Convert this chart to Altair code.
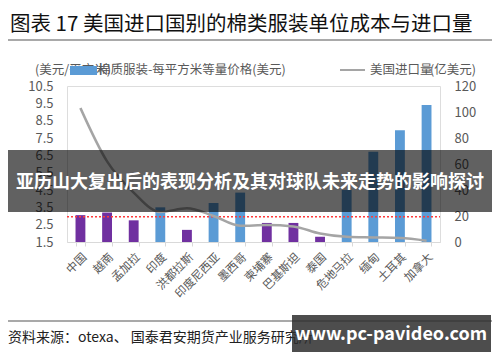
import altair as alt
import pandas as pd

categories = ["中国", "越南", "孟加拉", "印度", "洪都拉斯", "印度尼西亚", "墨西哥",
              "柬埔寨", "巴基斯坦", "泰国", "危地马拉", "缅甸", "土耳其", "加拿大"]
price = [3.05, 3.2, 2.75, 3.5, 2.2, 3.75, 4.35, 2.6, 2.6, 1.8, 4.5, 6.7, 7.95, 9.4]
imports = [103, 62, 38, 23, 26, 20, 12.5, 13, 12, 6.5, 4, 3.5, 3, 1]
group = ["p", "p", "p", "b", "p", "b", "b", "p", "p", "p", "b", "b", "b", "b"]
ref_price = 2.95
left_ticks = [1.5, 2.5, 3.5, 4.5, 5.5, 6.5, 7.5, 8.5, 9.5, 10.5]
right_ticks = [0, 20, 40, 60, 80, 100, 120]

title_text = "图表 17 美国进口国别的棉类服装单位成本与进口量"
bar_legend = "棉质服装-每平方米等量价格(美元)"
left_unit = "(美元/平方米)"
line_legend = "美国进口量"
right_unit = "(亿美元)"
banner_text = "亚历山大复出后的表现分析及其对球队未来走势的影响探讨"
source_text = "资料来源：otexa、 国泰君安期货产业服务研究所"
watermark = "www.pc-pavideo.com"

FONT = "Noto Sans CJK SC"
GRAY = "#595959"

df = pd.DataFrame({"cat": categories, "price": price, "imports": imports, "g": group})
one = pd.DataFrame({"a": [0]})
refdf = pd.DataFrame({"price": [ref_price]})

xenc = alt.X("cat:N", sort=categories, title=None,
             scale=alt.Scale(paddingInner=0.63, paddingOuter=0.32),
             axis=alt.Axis(labelAngle=-45, labelFont=FONT, labelFontSize=11.5,
                           labelColor=GRAY, domainColor="#D9D9D9", tickColor="#D9D9D9",
                           tickBand="extent", tickSize=4, labelPadding=5))

left_scale = alt.Scale(domain=[1.5, 10.5], zero=False, nice=False)
left_axis = alt.Axis(values=left_ticks, format=".1f", grid=False, domain=False,
                     ticks=False, labelFont=FONT, labelFontSize=13,
                     labelColor=GRAY, labelPadding=14, labelOverlap=False,
                     labelFlush=False)

bars = alt.Chart(df).mark_bar().encode(
    x=xenc,
    y=alt.Y("price:Q", title=None, scale=left_scale, axis=left_axis),
    y2=alt.datum(1.5),
    color=alt.Color("g:N", scale=alt.Scale(domain=["p", "b"], range=["#7030A0", "#5B9BD5"]),
                    legend=None),
)
redline = alt.Chart(refdf).mark_rule(color="#FF3B3B", strokeDash=[2, 2], strokeWidth=1.5).encode(
    y=alt.Y("price:Q", title=None, scale=left_scale, axis=left_axis),
    x=alt.value(0), x2=alt.value(373))
left = alt.layer(bars, redline)

line = alt.Chart(df).mark_line(color="#A5A5A5", strokeWidth=2.5, interpolate="monotone").encode(
    x=xenc,
    y=alt.Y("imports:Q", title=None,
            scale=alt.Scale(domain=[0, 120], nice=False),
            axis=alt.Axis(values=right_ticks, orient="right", grid=False, domain=False,
                          ticks=False, labelFont=FONT, labelFontSize=13,
                          labelColor=GRAY, labelPadding=14, labelOverlap=False,
                          labelFlush=False)),
)

def txt(text, x, y, size, color="#000000", align="left", weight="normal", base="middle"):
    return alt.Chart(one).mark_text(text=text, font=FONT, fontSize=size, color=color,
                                    align=align, baseline=base, fontWeight=weight).encode(
        x=alt.value(x), y=alt.value(y))

def rect(x, x2, y, y2, color, opacity=1.0):
    return alt.Chart(one).mark_rect(color=color, opacity=opacity).encode(
        x=alt.value(x), x2=alt.value(x2), y=alt.value(y), y2=alt.value(y2))

def hrule(x, x2, y, color, width):
    return alt.Chart(one).mark_rule(color=color, strokeWidth=width).encode(
        x=alt.value(x), x2=alt.value(x2), y=alt.value(y))

annot = alt.layer(
    txt(title_text, -57, -61, 20.5, "#111111"),
    hrule(-59, 425, -46, "#8C8C8C", 1.5),
    txt(left_unit, -32, -16, 12.5, GRAY),
    rect(3, 30, -20, -11, "#5B9BD5"),
    txt(bar_legend, 31, -16, 12.5, GRAY),
    hrule(273, 298, -16, "#A5A5A5", 2),
    txt(line_legend, 303, -16, 12.5, GRAY),
    txt(right_unit, 409, -16, 12.5, GRAY, align="right"),
    hrule(-59, 425, 235, "#8C8C8C", 1.5),
    txt(source_text, -59, 252, 14, "#222222"),
    rect(-67, 433, 64, 126, "#000000", 0.62),
    txt(banner_text, 183, 97, 18, "#FFFFFF", align="center", weight="bold"),
    rect(225, 424, 229, 266, "#2E2E2E", 0.85),
    txt(watermark, 324, 249, 18, "#FFFFFF", align="center", weight="bold"),
)

chart = alt.layer(left, line, annot).resolve_scale(y="independent").properties(
    width=373, height=156,
    autosize=alt.AutoSizeParams(type="none"),
    padding={"left": 59, "top": 78, "right": 52, "bottom": 112},
).configure_view(stroke=None).configure(background="#FFFFFF")

chart.save("out.html", embed_options={"renderer": "svg", "actions": False})
